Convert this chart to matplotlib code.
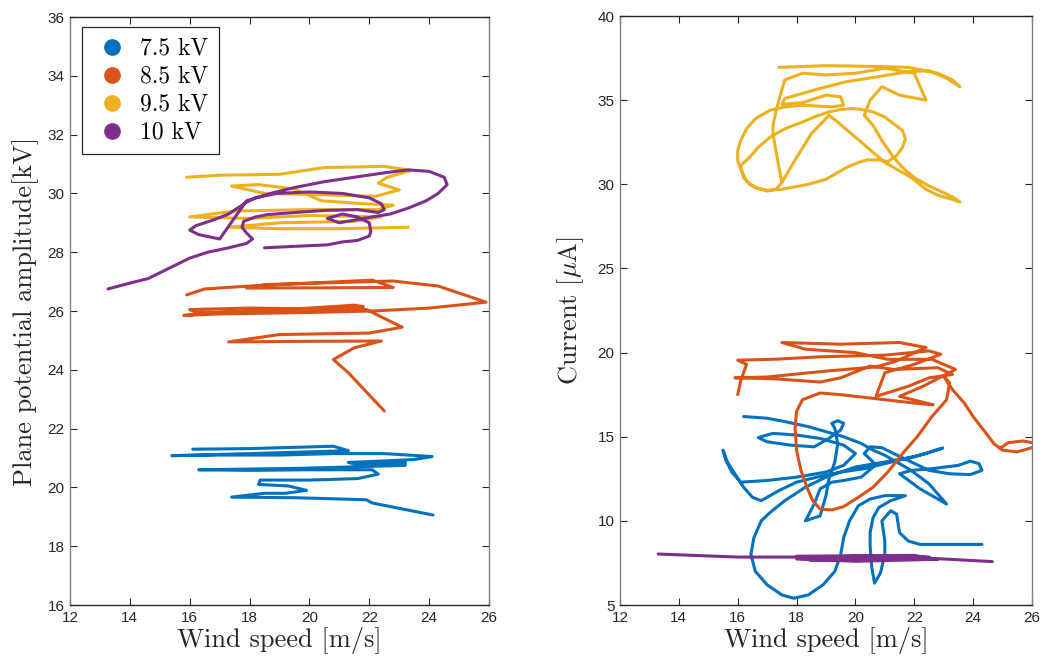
import numpy as np
import matplotlib
matplotlib.use('Agg')
from matplotlib import pyplot as plt
from matplotlib.lines import Line2D

plt.rcParams['mathtext.fontset'] = 'cm'
plt.rcParams['font.family'] = ['Liberation Sans', 'DejaVu Sans']

labels = ['7.5 kV', '8.5 kV', '9.5 kV', '10 kV']
colors = ['#0072BD', '#D95319', '#EDB120', '#7E2F8E']

# plane potential amplitude [kV] vs wind speed [m/s]
amp_75_ws = [16.1, 18.0, 20.8, 21.3, 18.0, 15.4, 17.0, 19.0, 20.8, 22.5, 24.1, 23.5, 22.5, 21.3,
             21.5, 23.2, 23.2, 21.5, 19.7, 16.3, 18.0, 20.0, 22.1, 22.3, 21.6, 20.0, 18.35, 18.3,
             19.3, 19.9, 19.2, 18.5, 17.4, 19.5, 21.9, 22.1, 24.13]
amp_75_kv = [21.3, 21.32, 21.4, 21.25, 21.15, 21.08, 21.1, 21.1, 21.15, 21.15, 21.05, 20.95, 20.9, 20.85,
             20.8, 20.85, 20.75, 20.7, 20.65, 20.6, 20.58, 20.6, 20.6, 20.45, 20.3, 20.25, 20.25, 20.1,
             20.05, 19.9, 19.8, 19.8, 19.67, 19.65, 19.58, 19.47, 19.06]

amp_85_ws = [15.9, 16.5, 18.0, 20.0, 22.1, 22.8, 17.9, 18.5, 22.8, 24.3, 25.9, 24.0, 22.1, 20.0,
             17.0, 15.8, 17.0, 20.0, 21.5, 21.8, 20.0, 16.2, 16.0, 18.0, 21.9, 23.1, 22.0, 19.0,
             17.3, 20.0, 22.4, 21.5, 20.8, 21.3, 22.5]
amp_85_kv = [26.55, 26.75, 26.85, 26.95, 27.05, 26.8, 26.78, 26.9, 27.02, 26.85, 26.3, 26.1, 26.0, 25.95,
             25.9, 25.85, 25.95, 26.1, 26.2, 26.15, 26.0, 25.95, 26.05, 26.1, 26.05, 25.45, 25.25, 25.2,
             24.95, 24.97, 24.98, 24.75, 24.35, 23.9, 22.6]

amp_95_ws = [15.9, 17.0, 19.0, 20.5, 22.5, 23.4, 22.6, 22.3, 23.0, 22.2, 20.5, 18.5, 17.4, 18.3,
             19.5, 20.4, 21.8, 22.8, 22.3, 20.0, 17.5, 16.0, 18.0, 20.0, 22.4, 21.5, 19.0, 17.3,
             19.0, 21.0, 23.3]
amp_95_kv = [30.55, 30.62, 30.65, 30.88, 30.92, 30.78, 30.55, 30.35, 30.12, 29.9, 29.95, 30.0, 30.25, 30.3,
             30.15, 29.75, 29.65, 29.6, 29.45, 29.45, 29.4, 29.2, 29.15, 29.25, 29.2, 29.05, 29.0, 28.85,
             28.8, 28.8, 28.85]

amp_10_ws = [13.27, 14.0, 14.6, 15.0, 15.5, 16.0, 16.6, 17.3, 17.9, 18.1, 17.9, 17.75, 17.8, 18.2,
             18.6, 19.5, 20.5, 21.6, 22.3, 22.5, 22.4, 22.0, 21.1, 20.0, 18.9, 18.2, 17.9, 17.6,
             17.3, 16.8, 16.2, 16.0, 16.3, 17.0, 17.9, 18.7, 19.5, 20.5, 21.5, 22.5, 23.3, 24.0,
             24.5, 24.6, 24.3, 23.9, 23.3, 22.7, 21.8, 21.0, 20.6, 21.1, 21.6, 22.0, 22.05, 22.0,
             21.6, 21.1, 20.6, 19.5, 18.5]
amp_10_kv = [26.75, 26.95, 27.1, 27.3, 27.55, 27.8, 28.0, 28.15, 28.3, 28.45, 28.65, 28.85, 29.05, 29.2,
             29.28, 29.35, 29.42, 29.45, 29.35, 29.45, 29.65, 29.85, 30.0, 30.05, 30.0, 29.85, 29.7, 29.5,
             29.3, 29.1, 28.9, 28.75, 28.6, 28.45, 29.75, 30.0, 30.2, 30.4, 30.55, 30.7, 30.8, 30.75,
             30.55, 30.3, 30.0, 29.75, 29.5, 29.3, 29.15, 29.0, 29.15, 29.3, 29.2, 29.0, 28.7, 28.55,
             28.4, 28.35, 28.25, 28.2, 28.15]

# current [uA] vs wind speed [m/s]
cur_75_ws = [16.2, 17.0, 17.6, 18.4, 19.0, 19.6, 20.2, 20.6, 21.0, 21.4, 21.8, 22.2, 22.5, 22.8,
             23.1, 22.7, 22.2, 21.5, 21.9, 22.6, 23.5, 23.9, 24.2, 24.3, 23.9, 23.2, 22.5, 21.9,
             21.3, 20.9, 20.5, 20.3, 20.6, 20.6, 20.2, 19.6, 19.2, 18.8, 18.6, 18.3, 18.8, 19.0,
             19.1, 19.3, 19.4, 19.3, 19.2, 19.4, 19.6, 19.5, 19.1, 18.6, 17.8, 17.0, 16.7, 17.2,
             18.0, 18.8, 19.6, 20.0, 19.6, 19.0, 18.0, 17.0, 16.1, 15.8, 15.6, 15.5, 15.65, 15.9,
             16.2, 16.5, 16.8, 17.4, 18.0, 18.7, 19.5, 20.3, 21.0, 21.8, 22.4, 22.97, 22.0, 21.0,
             20.0, 19.0, 18.3, 17.6, 17.1, 16.8, 16.55, 16.45, 16.6, 17.0, 17.5, 17.9, 18.4, 18.9,
             19.3, 19.5, 19.6, 19.8, 20.1, 20.5, 21.0, 21.7, 21.2, 20.8, 20.6, 20.5, 20.5, 20.55,
             20.65, 20.85, 21.0, 21.0, 20.9, 21.2, 21.4, 21.5, 21.8, 22.2, 23.0, 24.3]
cur_75_ua = [16.2, 16.1, 15.9, 15.6, 15.3, 15.0, 14.6, 14.2, 13.9, 13.5, 13.1, 12.6, 12.2, 11.6,
             11.0, 11.4, 11.9, 12.8, 13.0, 13.1, 13.3, 13.55, 13.4, 13.0, 12.75, 12.8, 13.0, 13.5,
             14.0, 14.35, 14.4, 14.0, 13.5, 13.2, 12.6, 12.4, 12.3, 11.9, 11.0, 10.0, 10.3, 11.5,
             12.5, 13.5, 14.6, 15.5, 15.8, 15.95, 15.8, 15.4, 14.9, 14.4, 14.5, 14.7, 14.95, 15.2,
             15.1, 14.9, 14.5, 14.0, 13.3, 12.9, 12.6, 12.4, 12.3, 12.9, 13.6, 14.2, 13.5, 12.8,
             12.0, 11.4, 11.2, 11.8, 12.3, 12.6, 12.9, 13.1, 13.4, 13.75, 14.0, 14.33, 13.8, 13.5,
             13.2, 12.6, 12.0, 11.2, 10.5, 10.0, 9.0, 8.0, 7.0, 6.2, 5.6, 5.4, 5.6, 6.2,
             7.0, 8.0, 9.0, 10.0, 10.9, 11.3, 11.5, 11.5, 11.2, 10.8, 10.2, 9.3, 8.5, 7.3,
             6.3, 6.9, 8.0, 8.8, 10.0, 10.6, 10.4, 9.3, 8.8, 8.6, 8.6, 8.6]

cur_85_ws = [16.0, 16.1, 16.3, 16.0, 17.2, 18.8, 21.0, 22.5, 22.9, 22.0, 21.0, 20.7, 21.8, 22.5,
             23.3, 22.8, 21.3, 20.5, 19.5, 18.8, 17.2, 15.9, 17.0, 19.0, 20.7, 21.4, 22.4, 21.5,
             19.5, 17.5, 18.3, 20.0, 21.1, 22.6, 23.4, 22.3, 21.5, 22.64, 22.0, 21.0, 19.5, 18.8,
             18.2, 18.0, 17.95, 18.0, 18.15, 18.35, 18.55, 18.8, 19.2, 19.6, 20.1, 20.6, 21.1, 21.6,
             22.1, 22.6, 23.1, 23.2, 23.0, 23.3, 23.7, 24.0, 24.4, 24.7, 25.0, 25.5, 26.0, 26.15,
             25.7, 25.2, 24.9]
cur_85_ua = [17.5, 18.3, 19.3, 19.55, 19.6, 19.75, 19.85, 20.1, 19.9, 19.3, 18.8, 17.4, 18.0, 18.5,
             18.7, 19.1, 19.0, 19.2, 18.5, 18.25, 18.45, 18.5, 18.55, 18.9, 19.15, 19.5, 20.3, 20.6,
             20.5, 20.6, 20.2, 20.0, 19.6, 19.6, 19.0, 18.0, 17.4, 16.9, 17.0, 17.2, 17.5, 17.6,
             17.2, 16.5, 15.5, 14.2, 13.0, 12.0, 11.2, 10.7, 10.65, 10.85, 11.4, 12.0, 12.9, 14.0,
             15.0, 16.2, 17.2, 18.2, 18.6, 17.8, 17.0, 16.2, 15.3, 14.6, 14.2, 14.1, 14.35, 14.6,
             14.75, 14.65, 14.3]

cur_95_ws = [17.4, 19.0, 20.8, 21.8, 22.8, 23.3, 23.55, 23.1, 22.5, 21.8, 20.8, 19.7, 18.8, 17.6,
             17.5, 18.2, 19.0, 19.5, 19.6, 19.2, 18.2, 17.6, 17.1, 16.6, 16.3, 16.1, 16.0, 16.0,
             16.1, 16.3, 16.6, 17.0, 17.5, 18.4, 19.0, 19.4, 19.7, 20.1, 20.4, 20.8, 21.1, 21.4,
             21.6, 21.7, 21.6, 21.3, 21.0, 20.6, 20.2, 19.9, 19.5, 19.1, 18.6, 18.2, 17.6, 17.1,
             16.7, 16.4, 16.1, 16.2, 16.4, 16.7, 17.0, 17.3, 17.5, 17.4, 17.3, 17.2, 17.2, 17.3,
             17.4, 17.5, 17.6, 18.2, 19.0, 20.0, 21.0, 22.0, 22.2, 22.4, 21.5, 20.9, 20.5, 20.3,
             20.6, 20.9, 21.3, 21.6, 22.0, 22.5, 23.0, 23.3, 23.55, 23.3, 22.8, 22.4, 21.9, 21.0,
             20.2, 19.4, 19.1, 18.5, 17.9, 17.5]
cur_95_ua = [36.95, 37.05, 37.0, 36.95, 36.6, 36.2, 35.8, 36.3, 36.75, 36.7, 36.4, 36.1, 35.7, 35.1,
             34.75, 34.85, 35.3, 35.2, 34.7, 34.6, 34.7, 34.6, 34.4, 33.9, 33.3, 32.6, 32.0, 31.4,
             30.9, 30.2, 29.8, 29.65, 29.7, 30.0, 30.3, 30.7, 31.0, 31.3, 31.45, 31.45, 31.35, 31.7,
             32.2, 32.7, 33.2, 33.6, 34.0, 34.3, 34.45, 34.5, 34.45, 34.3, 34.0, 33.7, 33.3, 32.8,
             32.2, 31.6, 31.1, 30.4, 30.0, 29.75, 29.6, 29.7, 30.1, 31.0, 32.0, 33.0, 33.5, 34.3,
             35.0, 35.6, 36.2, 36.6, 36.5, 36.6, 36.9, 36.6, 35.8, 35.0, 35.3, 35.8, 35.0, 34.1,
             33.5, 32.6, 31.6, 31.0, 30.4, 29.9, 29.5, 29.25, 28.95, 29.1, 29.35, 29.7, 30.4, 31.3,
             32.5, 33.7, 34.1, 33.0, 31.3, 30.1]

cur_10_ws = [13.3, 16.0, 18.3, 20.0, 22.5, 22.4, 20.0, 18.0, 19.5, 22.8, 22.0, 18.0, 18.5, 22.3, 24.65]
cur_10_ua = [8.03, 7.85, 7.85, 7.9, 7.85, 7.7, 7.6, 7.75, 7.75, 7.7, 7.95, 7.9, 7.65, 7.8, 7.58]

amp_series = [(amp_75_ws, amp_75_kv), (amp_85_ws, amp_85_kv),
              (amp_95_ws, amp_95_kv), (amp_10_ws, amp_10_kv)]
cur_series = [(cur_75_ws, cur_75_ua), (cur_85_ws, cur_85_ua),
              (cur_95_ws, cur_95_ua), (cur_10_ws, cur_10_ua)]

fig = plt.figure(figsize=(10.51, 6.65), dpi=100)
ax1 = fig.add_axes([0.0666, 0.0902, 0.3987, 0.8842])
ax2 = fig.add_axes([0.5899, 0.0902, 0.3920, 0.8857])

label_font = dict(family='cmr10', size=19, color='#262626')

for ax, series in [(ax1, amp_series), (ax2, cur_series)]:
    for (ws, val), c in zip(series, colors):
        ax.plot(ws, val, color=c, lw=2.2, solid_capstyle='round', solid_joinstyle='round')
    ax.set_xlim(12, 26)
    ax.set_xticks(np.arange(12, 27, 2))
    ax.tick_params(direction='in', top=True, right=True, length=5, width=0.8,
                   labelsize=11, colors='#262626', pad=4)
    for side in ['left', 'right']:
        ax.spines[side].set_color('#808080')
    for side in ['top', 'bottom']:
        ax.spines[side].set_color('#262626')
    for s in ax.spines.values():
        s.set_linewidth(1.0)
    ax.set_xlabel('Wind speed [m/s]', fontdict=label_font, labelpad=2)

ax1.set_ylim(16, 36)
ax1.set_yticks(np.arange(16, 37, 2))
ax1.set_ylabel('Plane potential amplitude[kV]', fontdict=label_font, labelpad=6)

ax2.set_ylim(5, 40)
ax2.set_yticks(np.arange(5, 41, 5))
ax2.set_ylabel(r'Current [$\mu$A]', fontdict=label_font, labelpad=8)

handles = [Line2D([], [], ls='none', marker='o', markersize=11, color=c) for c in colors]
leg = ax1.legend(handles, labels, loc='upper left', bbox_to_anchor=(0.029, 0.983),
                 borderaxespad=0, fancybox=False, framealpha=1, handletextpad=0.4,
                 labelspacing=0.25, handlelength=1.6, borderpad=0.45,
                 prop=dict(family='cmr10', size=17))
leg.get_frame().set_edgecolor('#262626')
leg.get_frame().set_linewidth(0.9)

fig.savefig('out.png', dpi=100)
